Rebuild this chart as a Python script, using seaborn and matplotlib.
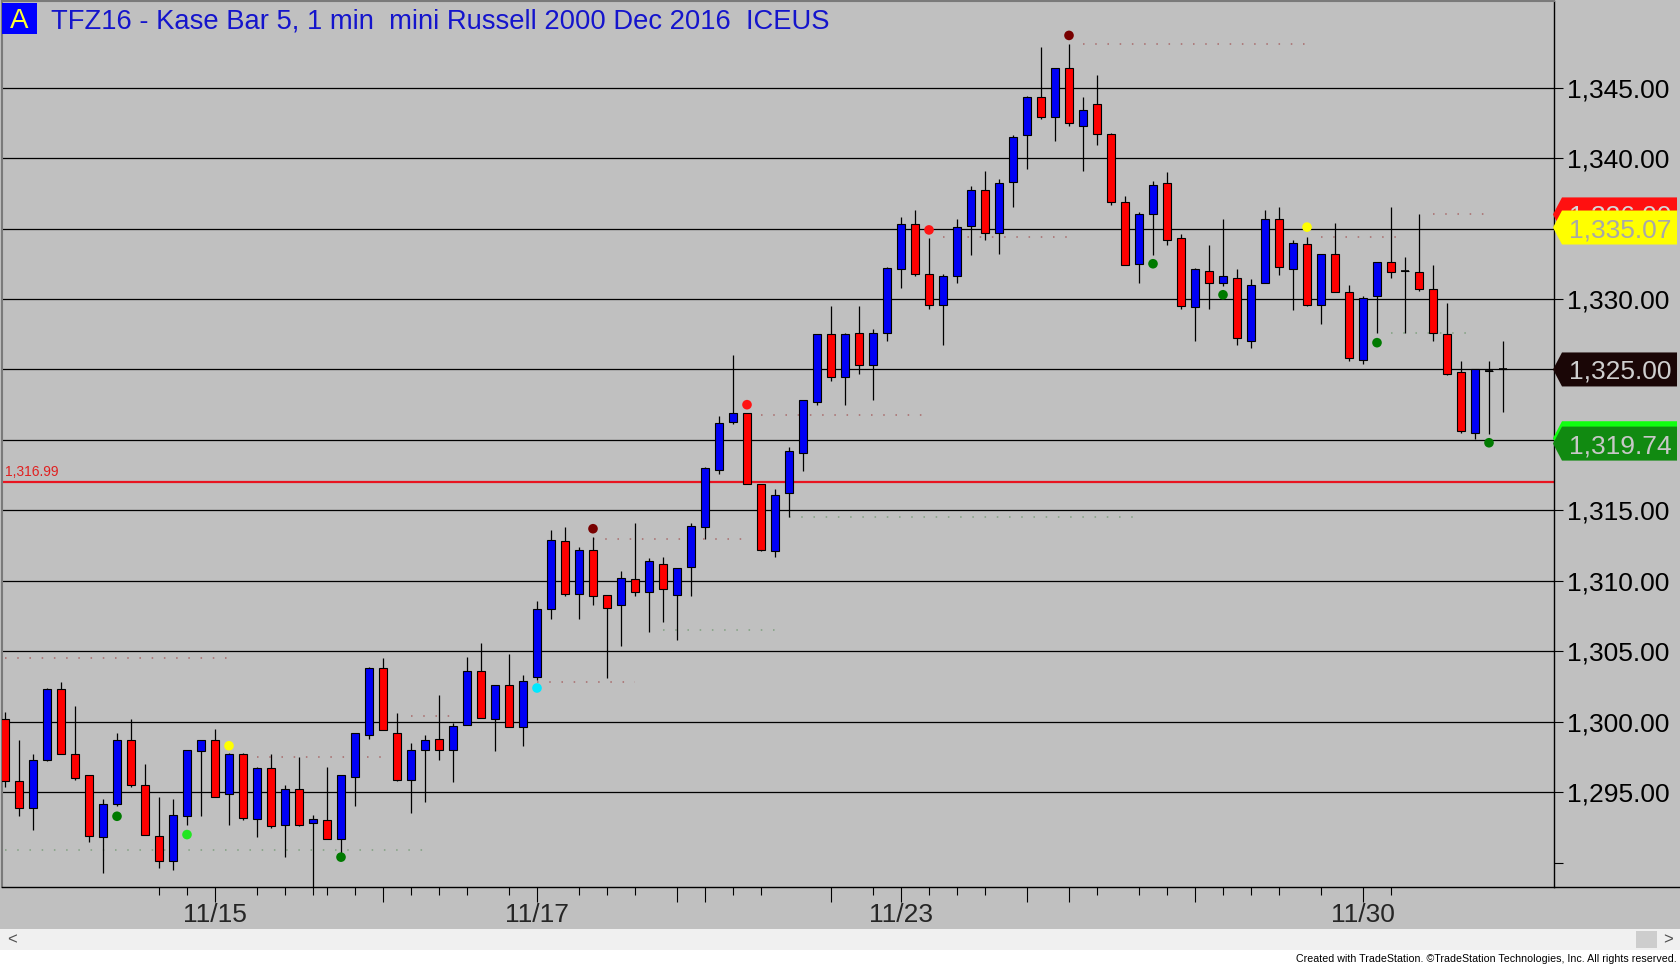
import numpy as np
import pandas as pd
import matplotlib
matplotlib.use("Agg")
import matplotlib.pyplot as plt
import seaborn as sns
from matplotlib.patches import Polygon, Rectangle
from matplotlib.lines import Line2D
from matplotlib.ticker import FixedLocator

# TFZ16 Kase Bar 5 candles
bar_no = list(range(1, 109))
opens = [1300.2, 1295.8, 1293.9, 1297.3, 1302.3, 1297.7, 1296.2, 1291.8, 1294.2, 1298.7,
         1295.5, 1291.9, 1290.1, 1293.3, 1297.9, 1298.7, 1294.9, 1297.7, 1293.1, 1296.7,
         1292.7, 1295.2, 1292.8, 1293.0, 1291.7, 1296.1, 1299.1, 1303.8, 1299.2, 1295.9,
         1298.0, 1298.8, 1298.0, 1299.8, 1303.6, 1300.2, 1302.6, 1299.6, 1303.2, 1308.0,
         1312.8, 1309.1, 1312.2, 1309.0, 1308.3, 1310.1, 1309.2, 1311.2, 1309.0, 1311.0,
         1313.8, 1317.9, 1321.3, 1321.9, 1316.9, 1312.1, 1316.2, 1319.1, 1322.7, 1327.5,
         1324.5, 1327.6, 1325.3, 1327.6, 1332.1, 1335.3, 1331.8, 1329.6, 1331.6, 1335.2,
         1337.7, 1334.7, 1338.3, 1341.6, 1344.3, 1342.9, 1346.4, 1342.3, 1343.8, 1341.7,
         1336.9, 1332.5, 1336.0, 1338.2, 1334.3, 1329.4, 1332.0, 1331.1, 1331.5, 1327.0,
         1331.1, 1335.7, 1332.1, 1333.9, 1329.6, 1333.2, 1330.5, 1325.7, 1330.2, 1332.6,
         1332.0, 1331.9, 1330.7, 1327.5, 1324.8, 1320.5, 1324.9, 1325.0]
highs = [1300.7, 1298.7, 1297.7, 1302.4, 1302.8, 1301.1, 1296.2, 1294.5, 1299.2, 1300.2,
         1297.0, 1294.7, 1294.5, 1298.0, 1298.7, 1299.5, 1297.8, 1297.8, 1296.8, 1297.7,
         1295.5, 1297.5, 1293.4, 1296.8, 1296.2, 1299.2, 1303.9, 1304.5, 1300.6, 1298.5,
         1299.1, 1301.9, 1299.9, 1304.6, 1305.6, 1302.6, 1304.8, 1303.3, 1308.6, 1313.6,
         1313.8, 1312.4, 1313.1, 1309.0, 1310.7, 1314.1, 1311.6, 1311.7, 1310.9, 1314.1,
         1318.1, 1321.7, 1326.0, 1321.9, 1316.9, 1316.5, 1319.5, 1322.8, 1327.5, 1329.5,
         1327.6, 1329.5, 1327.9, 1332.3, 1335.8, 1336.3, 1334.3, 1331.8, 1335.7, 1338.0,
         1339.1, 1338.5, 1341.6, 1344.4, 1347.9, 1346.4, 1348.1, 1344.3, 1345.9, 1341.8,
         1337.3, 1336.2, 1338.4, 1339.0, 1334.6, 1332.2, 1333.8, 1335.7, 1332.1, 1331.4,
         1336.3, 1336.5, 1334.2, 1334.4, 1333.2, 1335.4, 1331.0, 1330.2, 1332.6, 1336.5,
         1333.0, 1336.0, 1332.4, 1329.7, 1325.6, 1325.0, 1325.6, 1327.0]
lows = [1295.4, 1293.3, 1292.3, 1297.2, 1297.7, 1295.9, 1291.5, 1289.3, 1294.0, 1295.4,
        1292.0, 1289.6, 1289.5, 1292.7, 1293.3, 1294.7, 1292.7, 1293.0, 1291.8, 1292.5,
        1290.4, 1292.6, 1288.3, 1291.7, 1290.7, 1294.0, 1298.8, 1299.4, 1295.8, 1293.5,
        1294.3, 1297.3, 1295.7, 1299.8, 1300.3, 1297.9, 1299.6, 1298.3, 1303.0, 1307.3,
        1308.9, 1307.3, 1308.3, 1303.1, 1305.4, 1308.9, 1306.4, 1307.1, 1305.8, 1308.9,
        1313.0, 1317.6, 1321.1, 1316.9, 1312.1, 1311.7, 1314.5, 1317.8, 1322.5, 1324.2,
        1322.5, 1324.7, 1322.8, 1327.0, 1330.8, 1331.6, 1329.3, 1326.7, 1331.1, 1333.1,
        1334.2, 1333.2, 1336.5, 1339.2, 1342.8, 1341.2, 1342.3, 1339.1, 1340.9, 1336.7,
        1332.4, 1331.1, 1333.1, 1333.8, 1329.3, 1327.0, 1329.3, 1330.9, 1326.7, 1326.5,
        1331.1, 1331.7, 1329.2, 1329.5, 1328.2, 1330.5, 1325.6, 1325.4, 1327.6, 1331.5,
        1327.6, 1330.6, 1327.0, 1324.6, 1320.5, 1320.1, 1320.4, 1322.0]
closes = [1295.8, 1293.9, 1297.3, 1302.3, 1297.7, 1296.0, 1291.9, 1294.2, 1298.7, 1295.5,
          1292.0, 1290.1, 1293.4, 1298.0, 1298.7, 1294.7, 1297.7, 1293.2, 1296.7, 1292.6,
          1295.2, 1292.7, 1293.1, 1291.7, 1296.2, 1299.2, 1303.8, 1299.4, 1295.9, 1298.0,
          1298.7, 1298.0, 1299.7, 1303.6, 1300.3, 1302.6, 1299.6, 1302.9, 1308.0, 1312.9,
          1309.1, 1312.2, 1308.9, 1308.1, 1310.2, 1309.2, 1311.4, 1309.4, 1310.9, 1313.9,
          1318.0, 1321.2, 1321.9, 1316.9, 1312.2, 1316.1, 1319.2, 1322.8, 1327.5, 1324.5,
          1327.5, 1325.3, 1327.6, 1332.2, 1335.3, 1331.8, 1329.6, 1331.6, 1335.1, 1337.7,
          1334.7, 1338.2, 1341.5, 1344.3, 1342.9, 1346.4, 1342.5, 1343.4, 1341.7, 1336.9,
          1332.4, 1336.0, 1338.1, 1334.2, 1329.5, 1332.1, 1331.1, 1331.6, 1327.2, 1331.0,
          1335.7, 1332.3, 1334.0, 1329.6, 1333.2, 1330.5, 1325.8, 1330.1, 1332.6, 1331.9,
          1332.0, 1330.7, 1327.6, 1324.7, 1320.6, 1325.0, 1324.9, 1325.0]

# Kase signal dots
dot_bar = [9, 14, 17, 25, 39, 43, 54, 67, 77, 83, 88, 94, 99, 107]
dot_price = [1293.3, 1292.0, 1298.3, 1290.4, 1302.4, 1313.7, 1322.5, 1334.9, 1348.7,
             1332.5, 1330.3, 1335.1, 1326.9, 1319.8]
dot_kind = ["dkgreen", "lime", "yellow", "dkgreen", "cyan", "dkred", "red", "red", "dkred",
            "dkgreen", "dkgreen", "yellow", "dkgreen", "dkgreen"]

# faint dotted stop levels
lvl_price = [1304.5, 1348.1, 1334.4, 1321.8, 1314.5, 1313.0, 1306.5, 1302.8, 1297.5,
             1300.4, 1290.9, 1336.0, 1334.4, 1327.6]
lvl_from = [1, 78, 68, 55, 57, 43, 48, 39, 19, 30, 1, 103, 95, 100]
lvl_to = [17, 94, 77, 67, 82, 54, 56, 46, 28, 33, 31, 107, 101, 106]
lvl_kind = ["r", "r", "r", "r", "g", "r", "g", "r", "r", "r", "g", "r", "r", "g"]

ref_line = 1316.99

# right-axis price markers (drawn in this order, later ones on top)
mark_price = [1336.00, 1335.07, 1325.00, 1320.12, 1319.74]
mark_face = ["#ff1010", "#ffff00", "#1a0606", "#10ff10", "#118a11"]
mark_text = ["#d8d8d8", "#a8a8a8", "#cfcfcf", "#d0d0d0", "#c8c8c8"]

price_ticks = [1290, 1295, 1300, 1305, 1310, 1315, 1320, 1325, 1330, 1335, 1340, 1345]
grid_levels = [1295, 1300, 1305, 1310, 1315, 1320, 1325, 1330, 1335, 1340, 1345]
date_ticks = [16, 39, 65, 98]
date_labels = ["11/15", "11/17", "11/23", "11/30"]
day_ticks = [28, 49, 51, 60, 74, 77, 86]
hour_ticks = [12, 14, 19, 21, 23, 24, 26, 30, 32, 34, 37, 42, 44, 46, 53, 55, 63, 67,
              69, 71, 79, 82, 84, 88, 90, 92, 95, 100]

W, H = 1680, 965
GRAY = "#c0c0c0"

sns.set_theme(style="white")
plt.rcParams["font.family"] = ["Liberation Sans", "DejaVu Sans"]

fig = plt.figure(figsize=(W / 100, H / 100), dpi=100, facecolor=GRAY)
ax = fig.add_axes([2 / W, 77.7 / H, 1552 / W, 886 / H])
ax.set_facecolor(GRAY)

df = pd.DataFrame({"bar": bar_no, "open": opens, "high": highs, "low": lows, "close": closes})
df["color"] = np.where(df.close > df.open, "#0000f5", np.where(df.close < df.open, "#ff0000", "black"))

for g in grid_levels:
    ax.axhline(g, color="black", lw=0.9, zorder=0.5)

ax.vlines(df.bar, df.low, df.high, color="black", lw=0.9, zorder=2)
ax.bar(df.bar, (df.close - df.open).abs(), bottom=df[["open", "close"]].min(axis=1),
       width=0.52, color=df.color, edgecolor="black", linewidth=0.8, zorder=3)
doji = df[df.close == df.open]
ax.hlines(doji.close, doji.bar - 0.3, doji.bar + 0.3, color="black", lw=1.2, zorder=3)

lvl_col = {"r": "#a86a6a", "g": "#80a080"}
for p, a, b, k in zip(lvl_price, lvl_from, lvl_to, lvl_kind):
    ax.hlines(p, a, b, colors=lvl_col[k], linestyles=(0, (1, 7)), lw=1.1, zorder=1)

dots = pd.DataFrame({"bar": dot_bar, "price": dot_price, "kind": dot_kind})
pal = {"dkgreen": "#007a00", "lime": "#22e622", "yellow": "#ffff00", "cyan": "#00e8ff",
       "dkred": "#780000", "red": "#ff1414"}
sns.scatterplot(data=dots, x="bar", y="price", hue="kind", palette=pal, s=48,
                edgecolor="none", legend=False, ax=ax, zorder=4)

ax.axhline(ref_line, color="#e81420", lw=1.6, zorder=2)
ax.annotate(f"{ref_line:,.2f}", xy=(0, ref_line), xycoords=("axes fraction", "data"),
            xytext=(3, 3), textcoords="offset pixels", va="bottom", ha="left",
            color="#e02020", fontsize=10, family=["Liberation Sans Narrow", "Liberation Sans"])

ax.set_xlim(1 - 3 / 14, 1 + 1549 / 14)
ax.set_ylim(1288.26, 1351.12)
ax.set_xlabel("")
ax.set_ylabel("")
ax.grid(False)

# right price scale
ax.yaxis.tick_right()
ax.set_yticks(price_ticks)
ax.set_yticklabels(["" if t == price_ticks[0] else f"{t:,.2f}" for t in price_ticks])
ax.tick_params(axis="y", which="major", direction="out", length=6.5, width=0.8,
               color="black", pad=2.7, labelsize=19, labelcolor="black")

# time scale
major = sorted(date_ticks + day_ticks)
lab = dict(zip(date_ticks, date_labels))
ax.xaxis.set_major_locator(FixedLocator(major))
ax.set_xticklabels([lab.get(t, "") for t in major])
ax.xaxis.set_minor_locator(FixedLocator(hour_ticks))
ax.tick_params(axis="x", which="major", bottom=True, direction="out", length=10.8,
               width=0.8, color="black", pad=0.5, labelsize=19)
ax.tick_params(axis="x", which="minor", bottom=True, direction="out", length=5.5,
               width=0.8, color="black")

for s in ["right", "bottom"]:
    ax.spines[s].set_color("black")
    ax.spines[s].set_linewidth(1.0)
for s in ["left", "top"]:
    ax.spines[s].set_color("#7a7a7a")
    ax.spines[s].set_linewidth(1.5)

# bottom line continues under the price scale
fig.add_artist(Line2D([1554 / W, 1], [77.7 / H, 77.7 / H], color="black", lw=1.0))

# price markers on the right scale
for i, (p, fc, tc) in enumerate(zip(mark_price, mark_face, mark_text)):
    yc = ax.transData.transform((1, p))[1]
    verts = [(1553, yc), (1562, yc + 17), (1677, yc + 17), (1677, yc - 17), (1562, yc - 17)]
    fig.add_artist(Polygon([(x / W, y / H) for x, y in verts], closed=True,
                           transform=fig.transFigure, facecolor=fc, edgecolor="none",
                           zorder=5 + 2 * i))
    fig.text(1620 / W, yc / H, f"{p:,.2f}", color=tc, fontsize=19, ha="center",
             va="center_baseline", zorder=6 + 2 * i)

# title block
fig.add_artist(Rectangle((2 / W, 931 / H), 35 / W, 31 / H, transform=fig.transFigure,
                         facecolor="#0000ff", edgecolor="none", zorder=5))
fig.text(19.5 / W, 946.5 / H, "A", color="#ffff30", fontsize=20, ha="center",
         va="center_baseline", zorder=6)
fig.text(51 / W, 946.5 / H, "TFZ16 - Kase Bar 5, 1 min  mini Russell 2000 Dec 2016  ICEUS",
         color="#1414cc", fontsize=19.7, ha="left", va="center_baseline", zorder=6)

# scrollbar and footer
fig.add_artist(Rectangle((0, 0), 1, 15 / H, transform=fig.transFigure,
                         facecolor="white", edgecolor="none", zorder=1))
fig.add_artist(Rectangle((0, 15 / H), 1, 21 / H, transform=fig.transFigure,
                         facecolor="#f0f0f0", edgecolor="none", zorder=1))
fig.add_artist(Rectangle((1636 / W, 17 / H), 21 / W, 17 / H, transform=fig.transFigure,
                         facecolor="#cdcdcd", edgecolor="none", zorder=2))
fig.text(12 / W, 25.5 / H, "<", color="#505050", fontsize=12, ha="center", va="center")
fig.text(1668 / W, 25.5 / H, ">", color="#505050", fontsize=12, ha="center", va="center")
fig.text(1677 / W, 6 / H,
         "Created with TradeStation. \u00a9TradeStation Technologies, Inc. All rights reserved.",
         color="black", fontsize=7.7, ha="right", va="center",
         family=["Liberation Sans Narrow", "Liberation Sans"])

fig.savefig("out.png", dpi=100, facecolor=GRAY)
